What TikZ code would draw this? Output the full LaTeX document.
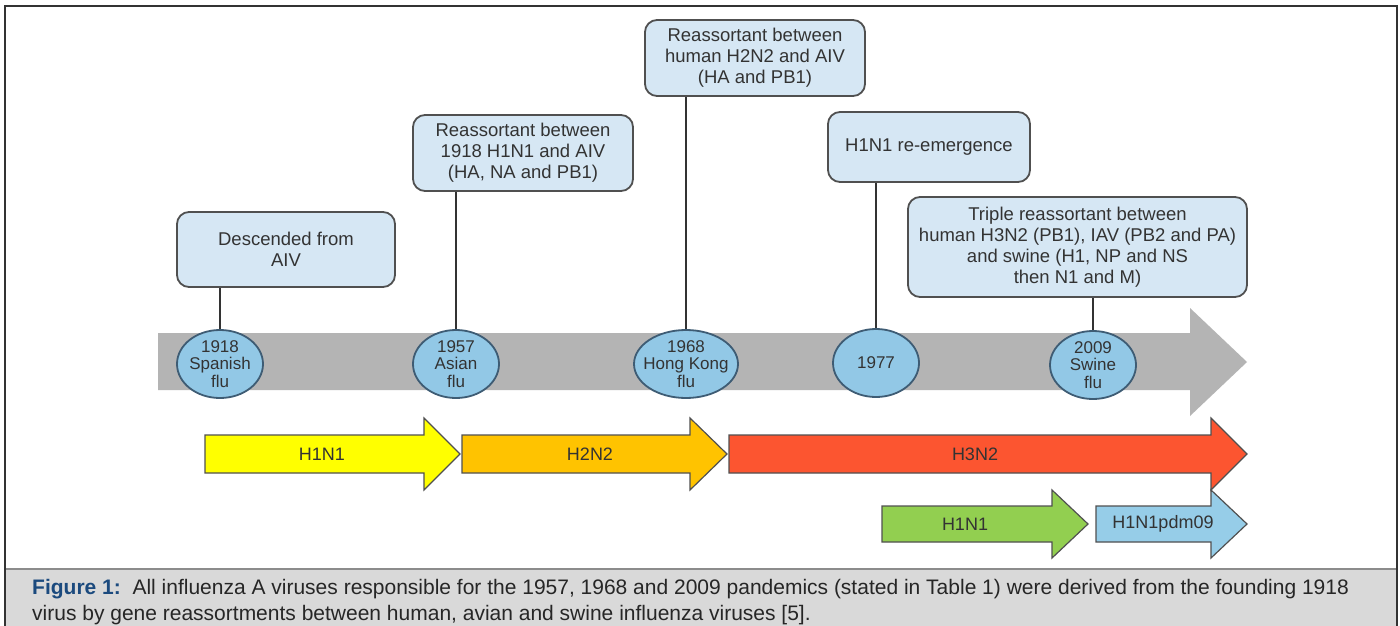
\documentclass[tikz,border=0pt]{standalone}
\usepackage{fontspec}
\setmainfont{Liberation Sans}
\usetikzlibrary{shapes.geometric}
\definecolor{boxfill}{HTML}{D6E7F4}
\definecolor{boxline}{HTML}{505050}
\definecolor{circfill}{HTML}{92C8E6}
\definecolor{circline}{HTML}{3E5C74}
\definecolor{greyarrow}{HTML}{B4B4B4}
\definecolor{ylw}{HTML}{FFFF00}
\definecolor{org}{HTML}{FFC300}
\definecolor{redc}{HTML}{FC5530}
\definecolor{grn}{HTML}{92CF50}
\definecolor{blu}{HTML}{96CDE8}
\definecolor{txt}{HTML}{333333}
\definecolor{capfill}{HTML}{D9D9D9}
\definecolor{figblue}{HTML}{1B4A7E}
\definecolor{frameline}{HTML}{333333}
\begin{document}
\begin{tikzpicture}[x=1pt,y=-1pt,
  infobox/.style={draw=boxline, line width=1.8pt, fill=boxfill, rounded corners=12pt,
    inner sep=0pt, align=center, text=txt, font=\fontsize{18.5}{21}\selectfont},
  yearcirc/.style={ellipse, draw=circline, line width=1.8pt, fill=circfill, inner sep=0pt,
    minimum width=86pt, minimum height=68pt},
  circtext/.style={align=center, text=txt, inner sep=0pt, font=\fontsize{17}{17.5}\selectfont},
  conn/.style={draw=frameline, line width=2.2pt},
  fatarrow/.style={draw=boxline, line width=1.2pt, line join=miter},
  arrtext/.style={text=txt, inner sep=0pt, font=\fontsize{18}{20}\selectfont},
  captext/.style={anchor=base west, inner sep=0pt, text=black!85, font=\fontsize{21}{24}\selectfont}
]
\useasboundingbox (0,0) rectangle (1400,626);
\fill[white] (0,0) rectangle (1400,626);

% caption area
\fill[capfill] (5,569) rectangle (1397,626);
\draw[draw=black!45, line width=1.6pt] (5,569) -- (1397,569);
\draw[draw=frameline, line width=1.8pt] (5,626) -- (5,6) -- (1397,6) -- (1397,626);

% grey time arrow
\fill[greyarrow] (158,333) -- (1190,333) -- (1190,308) -- (1247,362) -- (1190,416) -- (1190,390) -- (158,390) -- cycle;

% year ellipses
\node[yearcirc] (c1918) at (220,364) {};
\node[yearcirc] (c1957) at (456,364) {};
\node[yearcirc, minimum width=104pt] (c1968) at (686,364) {};
\node[yearcirc] (c1977) at (876,363) {};
\node[yearcirc] (c2009) at (1093,365) {};
\node[circtext] (t1918) at (c1918) {1918\\Spanish\\flu};
\node[circtext] (t1957) at (c1957) {1957\\Asian\\flu};
\node[circtext] (t1968) at (c1968) {1968\\Hong Kong\\flu};
\node[circtext] (t1977) at (c1977) {1977};
\node[circtext] (t2009) at (c2009) {2009\\Swine\\flu};

% info boxes
\node[infobox, minimum width=218pt, minimum height=75pt] (b1) at (286,249.5) {Descended from\\AIV};
\node[infobox, minimum width=220pt, minimum height=76pt] (b2) at (523,153) {Reassortant between\\1918 H1N1 and AIV\\(HA, NA and PB1)};
\node[infobox, minimum width=220pt, minimum height=76pt] (b3) at (755,58) {Reassortant between\\human H2N2 and AIV\\(HA and PB1)};
\node[infobox, minimum width=202pt, minimum height=70pt] (b4) at (929,147) {H1N1 re-emergence};
\node[infobox, minimum width=339pt, minimum height=100pt] (b5) at (1077.5,247) {Triple reassortant between\\human H3N2 (PB1), IAV (PB2 and PA)\\and swine (H1, NP and NS\\then N1 and M)};

% connectors
\draw[conn] (c1918.north) -- (c1918.north |- b1.south);
\draw[conn] (c1957.north) -- (c1957.north |- b2.south);
\draw[conn] (c1968.north) -- (c1968.north |- b3.south);
\draw[conn] (c1977.north) -- (c1977.north |- b4.south);
\draw[conn] (c2009.north) -- (c2009.north |- b5.south);

% subtype arrows, row 1
\draw[fatarrow, fill=ylw] (205,435) -- (424,435) -- (424,418) -- (460,454) -- (424,490) -- (424,473) -- (205,473) -- cycle;
\draw[fatarrow, fill=org] (462,435) -- (690,435) -- (690,418) -- (727,454) -- (690,490) -- (690,473) -- (462,473) -- cycle;
\draw[fatarrow, fill=redc] (729,435) -- (1211,435) -- (1211,418) -- (1247,454) -- (1211,490) -- (1211,473) -- (729,473) -- cycle;
\node[arrtext] (lh1) at (322,454) {H1N1};
\node[arrtext] (lh2) at (590,454) {H2N2};
\node[arrtext] (lh3) at (975,454) {H3N2};

% subtype arrows, row 2
\draw[fatarrow, fill=grn] (882,506) -- (1052,506) -- (1052,490) -- (1088,524) -- (1052,558) -- (1052,542) -- (882,542) -- cycle;
\draw[fatarrow, fill=blu] (1096,506) -- (1211,506) -- (1211,490) -- (1247,524) -- (1211,558) -- (1211,542) -- (1096,542) -- cycle;
\node[arrtext] (lg) at (965,524) {H1N1};
\node[arrtext] (lb) at (1163,524) {H1N1pdm09};

% caption
\node[captext] (cap1) at (32,594) {{\bfseries\color{figblue}Figure 1:}\ \ All influenza A viruses responsible for the 1957, 1968 and 2009 pandemics (stated in Table 1) were derived from the founding 1918};
\node[captext] (cap2) at (32,620) {virus by gene reassortments between human, avian and swine influenza viruses [5].};
\end{tikzpicture}
\end{document}
